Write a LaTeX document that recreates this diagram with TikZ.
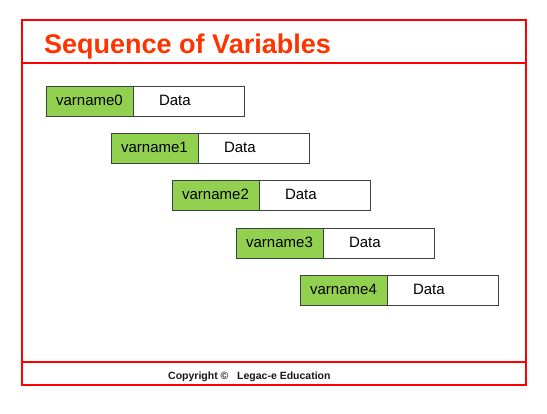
\documentclass[tikz,border=0pt]{standalone}
\usepackage{fontspec}
\setmainfont{Liberation Sans}
\usetikzlibrary{positioning}

\definecolor{framered}{RGB}{255,0,0}
\definecolor{titlered}{RGB}{255,51,0}
\definecolor{namegreen}{RGB}{146,208,80}

\tikzset{
  frameline/.style={draw=framered, line width=2pt},
  namebox/.style={draw=black!75, fill=namegreen, line width=1pt, outer sep=0pt,
    minimum width=87pt, minimum height=30pt, inner sep=0pt,
    text height=10.7pt, text depth=2.5pt,
    font=\fontsize{15}{18}\selectfont},
  databox/.style={draw=black!75, fill=white, line width=1pt, outer sep=0pt,
    text width=59pt, align=left, inner xsep=26pt, inner ysep=0pt,
    text height=10.7pt, text depth=2.5pt,
    minimum height=30pt, font=\fontsize{15}{18}\selectfont},
}

\begin{document}
\begin{tikzpicture}[x=1pt, y=-1pt]
    \useasboundingbox (0,0) rectangle (547,413);
    % frame
    \draw[frameline] (22,20) rectangle (526,385);
    \draw[frameline] (22,63) -- (526,63);
    \draw[frameline] (22,362) -- (526,362);
    \node[anchor=base west, inner sep=0pt, text=titlered,
      font=\fontsize{27}{32}\selectfont\bfseries] (title) at (44,53) {Sequence of Variables};
    % variables
    \foreach \i/\x/\y in {0/46/86, 1/111/133, 2/172/180, 3/236/228, 4/300/275} {
      \node[namebox, anchor=north west] (v\i) at (\x,\y) {varname\i};
      \node[databox, right=0pt of v\i] (d\i) {Data};
    }
    \node[anchor=base west, inner sep=0pt, text=black!90,
      font=\fontsize{10.5}{12}\selectfont\bfseries] (footer) at (168,379) {Copyright ©\ \ \ Legac-e Education};
\end{tikzpicture}
\end{document}
